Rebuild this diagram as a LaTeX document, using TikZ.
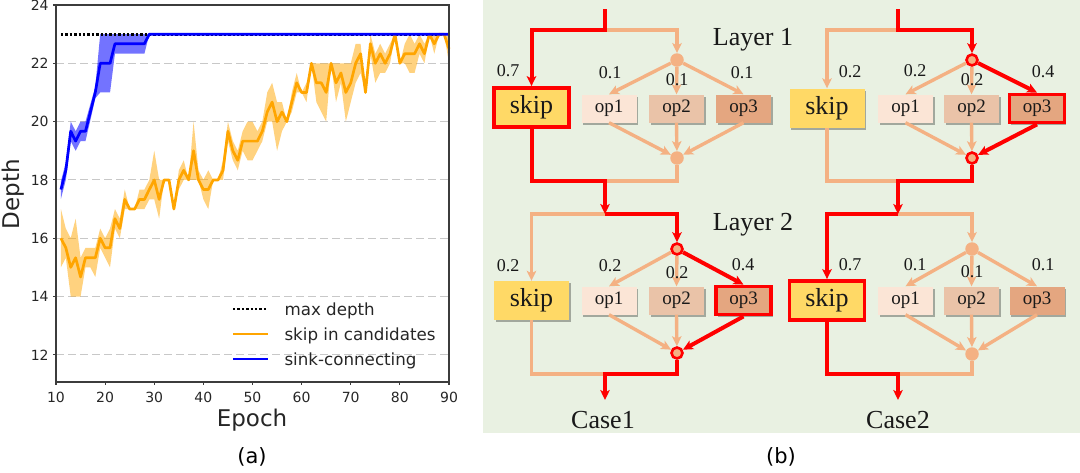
\documentclass[tikz,border=0pt]{standalone}
\usepackage{fontspec}
\setmainfont{DejaVu Sans}
\newfontfamily\serifface{Liberation Serif}
\usetikzlibrary{positioning}
\usetikzlibrary{arrows.meta}
\usetikzlibrary{shadows}

\definecolor{mplorange}{RGB}{255,165,0}
\definecolor{mplblue}{RGB}{0,0,255}
\definecolor{panelgreen}{RGB}{233,241,226}
\definecolor{peach}{RGB}{244,177,131}
\definecolor{skipyellow}{RGB}{255,217,102}
\definecolor{opone}{RGB}{251,229,214}
\definecolor{optwo}{RGB}{234,195,168}
\definecolor{opthree}{RGB}{228,166,128}
\definecolor{hotred}{RGB}{255,0,0}
\definecolor{framegray}{RGB}{60,60,60}
\definecolor{gridgray}{RGB}{200,200,200}

\tikzset{
 gridline/.style={gridgray, line width=1pt, dash pattern=on 8pt off 4pt},
 axisframe/.style={framegray, line width=1.3pt},
 tickmark/.style={framegray, line width=1.1pt},
 ticklabel/.style={font=\fontsize{14}{16}\selectfont, text=black!85},
 maxdepth/.style={black, line width=2.8pt, dash pattern=on 2.4pt off 2pt},
 skipcurve/.style={mplorange, line width=2.7pt, line join=round},
 sinkcurve/.style={mplblue, line width=2.7pt, line join=round},
 legendtext/.style={font=\fontsize{16.7}{19}\selectfont, anchor=base west, text=black!85},
 softline/.style={peach, line width=3.4pt},
 hotline/.style={hotred, line width=4pt},
 headed/.style={-{Stealth[length=10pt, width=9.5pt, inset=2.5pt]}},
 panelbox/.style={inner sep=0pt, text=black!90, general shadow={fill=black, opacity=0.3, shadow xshift=1.5pt, shadow yshift=-2pt}},
 skipbox/.style={panelbox, fill=skipyellow, minimum width=75pt, minimum height=39pt, font=\serifface\fontsize{26}{28}\selectfont},
 opbox/.style={panelbox, minimum width=55pt, minimum height=28pt, font=\serifface\fontsize{19}{21}\selectfont},
 hotbox/.style={draw=hotred, line width=3.8pt},
 joint/.style={circle, fill=peach, inner sep=0pt, minimum size=13.5pt},
 hotjoint/.style={joint, draw=hotred, line width=2.6pt, minimum size=11pt},
 weightlabel/.style={font=\serifface\fontsize{18}{20}\selectfont, text=black!90},
 casetext/.style={font=\serifface\fontsize{26}{28}\selectfont, anchor=base, text=black!90},
}

\begin{document}
\begin{tikzpicture}[x=1pt, y=-1pt]
\useasboundingbox (0,0) rectangle (1080,472);

%%%% (a) depth over epochs
\begin{scope}[xshift=6.875pt, yshift=-704.6pt, x=4.9125pt, y=29.15pt]

\foreach \d in {12,14,...,22} \draw[gridline] (10,\d) -- (90,\d);

\fill[mplorange, opacity=0.5] plot coordinates {(11,17) (12,16.33) (13,16) (14,16.67) (15,15.33) (16,15.67) (17,15.67) (18,15.67) (19,16.33) (20,16) (21,16.33) (22,17) (23,16.67) (24,17.67) (25,17) (26,17) (27,17.67) (28,17.67) (29,18) (30,19) (31,18) (32,18) (33,18) (34,17) (35,18.33) (36,18.67) (37,18) (38,20) (39,18.33) (40,18) (41,18.33) (42,18) (43,18) (44,18.67) (45,20) (46,19.33) (47,19) (48,19.67) (49,20) (50,20) (51,19.67) (52,20) (53,21) (54,21.33) (55,20.67) (56,20.67) (57,20) (58,21) (59,21.67) (60,21) (61,21.33) (62,22) (63,22) (64,22) (65,22) (66,22) (67,22) (68,22) (69,22) (70,22) (71,22.67) (72,22.67) (73,21) (74,23) (75,22.33) (76,22.67) (77,22.33) (78,22.67) (79,23) (80,22) (81,22.67) (82,23) (83,22.67) (84,23) (85,22.67) (86,23) (87,23) (88,23) (89,23) (90,23)}
 -- plot coordinates {(90,22) (89,23) (88,23) (87,22.33) (86,23) (85,22) (84,22.33) (83,21.67) (82,21.67) (81,22) (80,22) (79,23) (78,22) (77,21.67) (76,21.67) (75,21.33) (74,22.33) (73,21) (72,21.67) (71,21.33) (70,20.67) (69,20) (68,21.33) (67,20.67) (66,22) (65,20) (64,20.33) (63,20.67) (62,22) (61,20.67) (60,21) (59,21) (58,20.33) (57,20) (56,19.67) (55,19) (54,20) (53,20) (52,19.33) (51,19) (50,18.67) (49,18.67) (48,19) (47,18.33) (46,18.67) (45,19.33) (44,18) (43,18) (42,18) (41,17) (40,17.33) (39,18) (38,18) (37,18) (36,18) (35,17.67) (34,17) (33,18) (32,18) (31,16.67) (30,17.33) (29,17.33) (28,17) (27,17) (26,17) (25,17) (24,17) (23,16) (22,16.33) (21,15) (20,15.33) (19,15.67) (18,14.67) (17,15) (16,15) (15,14) (14,14) (13,14) (12,15.33) (11,15)} -- cycle;

\fill[mplblue, opacity=0.55] plot coordinates {(11,17.95) (12,18.6) (13,20) (14,19.67) (15,20) (16,20) (17,20.6) (18,21.2) (19,23) (29,23) (90,23)}
 -- plot coordinates {(90,23) (29,23) (28,22.33) (22,22.33) (21,21) (19,21) (18,20.8) (17,20.05) (16,19.33) (15,19.33) (14,19) (13,19.33) (12,18) (11,17.35)} -- cycle;

\draw[maxdepth] (11,23) -- (90,23);

\draw[skipcurve] plot coordinates {(11,16) (12,15.67) (13,15) (14,15.33) (15,14.67) (16,15.33) (17,15.33) (18,15.33) (19,16) (20,15.67) (21,15.67) (22,16.67) (23,16.33) (24,17.33) (25,17) (26,17) (27,17.33) (28,17.33) (29,17.67) (30,18) (31,17.33) (32,18) (33,18) (34,17) (35,18) (36,18.33) (37,18) (38,19) (39,18) (40,17.67) (41,17.67) (42,18) (43,18) (44,18.33) (45,19.67) (46,19) (47,18.67) (48,19.33) (49,19.33) (50,19.33) (51,19.33) (52,19.67) (53,20.33) (54,20.67) (55,20) (56,20.33) (57,20) (58,20.67) (59,21.33) (60,21) (61,21) (62,22) (63,21.33) (64,21.33) (65,21) (66,22) (67,21.33) (68,21.67) (69,21) (70,21.33) (71,22) (72,22.33) (73,21) (74,22.67) (75,22) (76,22.33) (77,22) (78,22.33) (79,23) (80,22) (81,22.33) (82,22.33) (83,22.33) (84,22.67) (85,22.33) (86,23) (87,22.67) (88,23) (89,23) (90,22.5)};

\draw[sinkcurve] plot coordinates {(11,17.67) (12,18.33) (13,19.67) (14,19.33) (15,19.67) (16,19.67) (17,20.33) (18,21) (19,22) (20,22) (21,22) (22,22.67) (28,22.67) (29,23) (90,23)};

\draw[axisframe] (10,11.07) rectangle (90,24);
\foreach \e in {10,20,...,90} \draw[tickmark] (\e,11.07) -- ++(0,-0.12) node[below, ticklabel, yshift=-2.5pt] (xt\e) {\e};
\foreach \d in {12,14,...,24} \draw[tickmark] (10,\d) -- ++(-0.71,0) node[left, ticklabel] (yt\d) {\d};

\end{scope}

% legend
\draw[maxdepth] (233,309) -- (268,309);
\node[legendtext] (legmax) at (281,315) {max depth};
\draw[skipcurve] (233,334) -- (268,334);
\node[legendtext] (legskip) at (281,340) {skip in candidates};
\draw[sinkcurve] (233,359) -- (268,359);
\node[legendtext] (legsink) at (281,365) {sink-connecting};

\node[rotate=90, font=\fontsize{23}{26}\selectfont, text=black!85] (ylab) at (13,194) {Depth};
\node[anchor=base, font=\fontsize{23}{26}\selectfont, text=black!85] (xlab) at (252,426) {Epoch};
\node[font=\fontsize{21}{24}\selectfont] (capa) at (252,457) {(a)};
\node[font=\fontsize{21}{24}\selectfont] (capb) at (781,457) {(b)};

%%%% (b) two cases of two layers
\fill[panelgreen] (483,0) rectangle (1080,433);

% case 1, layer 1
\node[skipbox, hotbox] (a1skip) at (531.5,107.5) {skip};
\node[opbox, fill=opone] (a1op1) at (609,108.5) {op1};
\node[opbox, fill=optwo] (a1op2) at (676.5,108.5) {op2};
\node[opbox, fill=opthree] (a1op3) at (743.5,108.5) {op3};
\node[joint] (a1split) at (677,60) {};
\node[joint] (a1merge) at (677,158) {};
\coordinate (a1in) at (605,9);
\coordinate (a1fork) at (605,30);
\coordinate (a1join) at (605,181);

% case 2, layer 1
\node[skipbox] (b1skip) at (827,108) {skip};
\node[opbox, fill=opone] (b1op1) at (905.5,108.5) {op1};
\node[opbox, fill=optwo] (b1op2) at (971.5,108.5) {op2};
\node[opbox, fill=opthree, hotbox] (b1op3) at (1037,108.5) {op3};
\node[hotjoint] (b1split) at (972,60) {};
\node[hotjoint] (b1merge) at (972,158) {};
\coordinate (b1in) at (898,9);
\coordinate (b1fork) at (898,30);
\coordinate (b1join) at (898,181);

% case 1, layer 2
\node[skipbox] (a2skip) at (531.5,300.5) {skip};
\node[opbox, fill=opone] (a2op1) at (609,300.5) {op1};
\node[opbox, fill=optwo] (a2op2) at (676.5,300.5) {op2};
\node[opbox, fill=opthree, hotbox] (a2op3) at (743.5,300.5) {op3};
\node[hotjoint] (a2split) at (677,249) {};
\node[hotjoint] (a2merge) at (677,353) {};
\coordinate (a2fork) at (605,214);
\coordinate (a2join) at (605,374);
\coordinate (a2out) at (605,400);

% case 2, layer 2
\node[skipbox, hotbox] (b2skip) at (827,300.5) {skip};
\node[opbox, fill=opone] (b2op1) at (905.5,300.5) {op1};
\node[opbox, fill=optwo] (b2op2) at (971.5,300.5) {op2};
\node[opbox, fill=opthree] (b2op3) at (1037,300.5) {op3};
\node[joint] (b2split) at (972,249) {};
\node[joint] (b2merge) at (972,354) {};
\coordinate (b2fork) at (898,214);
\coordinate (b2join) at (898,374);
\coordinate (b2out) at (898,400);

% unused paths
\draw[softline, headed] (a1fork) -| (a1split);
\draw[softline, headed] (a1split) -- (a1op1.north);
\draw[softline, headed] (a1split) -- (a1op2.north);
\draw[softline, headed] (a1split) -- (a1op3.north);
\draw[softline, headed] (a1op1.south) -- (a1merge);
\draw[softline, headed] (a1op2.south) -- (a1merge);
\draw[softline, headed] (a1op3.south) -- (a1merge);
\draw[softline] (a1merge) |- (a1join);

\draw[softline, headed] (b1fork) -| (b1skip.north);
\draw[softline, headed] (b1split) -- (b1op1.north);
\draw[softline, headed] (b1split) -- (b1op2.north);
\draw[softline, headed] (b1op1.south) -- (b1merge);
\draw[softline, headed] (b1op2.south) -- (b1merge);
\draw[softline] (b1skip.south) |- (b1join);

\draw[softline, headed] (a2fork) -| (a2skip.north);
\draw[softline, headed] (a2split) -- (a2op1.north);
\draw[softline, headed] (a2split) -- (a2op2.north);
\draw[softline, headed] (a2op1.south) -- (a2merge);
\draw[softline, headed] (a2op2.south) -- (a2merge);
\draw[softline] (a2skip.south) |- (a2join);

\draw[softline, headed] (b2fork) -| (b2split);
\draw[softline, headed] (b2split) -- (b2op1.north);
\draw[softline, headed] (b2split) -- (b2op2.north);
\draw[softline, headed] (b2split) -- (b2op3.north);
\draw[softline, headed] (b2op1.south) -- (b2merge);
\draw[softline, headed] (b2op2.south) -- (b2merge);
\draw[softline, headed] (b2op3.south) -- (b2merge);
\draw[softline] (b2merge) |- (b2join);

% chosen paths
\draw[hotline, headed] (a1in) -- (a1fork) -| (a1skip.north);
\draw[hotline, headed] (a1skip.south) |- (a1join) -- (a2fork);
\draw[hotline, headed] (a2fork) -| (a2split);
\draw[hotline, headed] (a2split) -- (a2op3.north);
\draw[hotline, headed] (a2op3.south) -- (a2merge);
\draw[hotline, headed] (a2merge) |- (a2join) -- (a2out);

\draw[hotline, headed] (b1in) -- (b1fork) -| (b1split);
\draw[hotline, headed] (b1split) -- (b1op3.north);
\draw[hotline, headed] (b1op3.south) -- (b1merge);
\draw[hotline, headed] (b1merge) |- (b1join) -- (b2fork);
\draw[hotline, headed] (b2fork) -| (b2skip.north);
\draw[hotline, headed] (b2skip.south) |- (b2join) -- (b2out);

% weights
\node[weightlabel] (a1w0) at (508,71) {0.7};
\node[weightlabel] (a1w1) at (610,73) {0.1};
\node[weightlabel] (a1w2) at (677,80) {0.1};
\node[weightlabel] (a1w3) at (742,73) {0.1};
\node[weightlabel] (b1w0) at (850,72) {0.2};
\node[weightlabel] (b1w1) at (915,71) {0.2};
\node[weightlabel] (b1w2) at (972,80) {0.2};
\node[weightlabel] (b1w3) at (1043,72) {0.4};
\node[weightlabel] (a2w0) at (508,266) {0.2};
\node[weightlabel] (a2w1) at (610,266) {0.2};
\node[weightlabel] (a2w2) at (677,273) {0.2};
\node[weightlabel] (a2w3) at (743,265) {0.4};
\node[weightlabel] (b2w0) at (850,265) {0.7};
\node[weightlabel] (b2w1) at (915,265) {0.1};
\node[weightlabel] (b2w2) at (972,272) {0.1};
\node[weightlabel] (b2w3) at (1043,265) {0.1};

\node[casetext] (layer1) at (753,45) {Layer 1};
\node[casetext] (layer2) at (753,230) {Layer 2};
\node[casetext] (case1) at (603,428) {Case1};
\node[casetext] (case2) at (898,428) {Case2};

\end{tikzpicture}
\end{document}
